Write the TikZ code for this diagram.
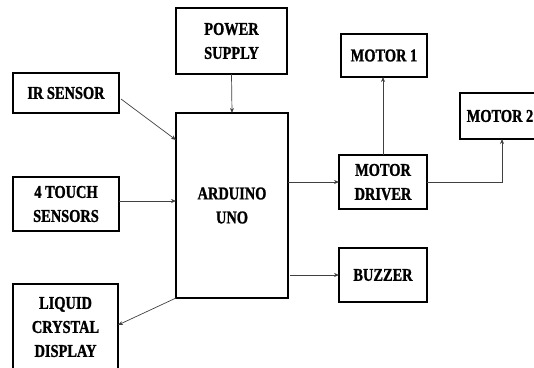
\documentclass[tikz,border=0pt]{standalone}
\usepackage{fontspec}
\newfontfamily\labfont{Liberation Serif Bold}[FakeStretch=0.8, FakeBold=1.2]
\usetikzlibrary{arrows.meta,calc}
\tikzset{
  blk/.style={draw=black, line width=1.6pt, inner sep=0pt, outer sep=0pt, align=center,
    font=\labfont\fontsize{18}{24}\selectfont},
  arr/.style={draw=black!75, line width=0.7pt, -{Stealth[length=5pt,width=4pt]}}
}
\begin{document}
\begin{tikzpicture}[x=1pt,y=-1pt]
\useasboundingbox (0,0) rectangle (534,367);
\clip (0,0) rectangle (534,367);
\node[blk, minimum width=111pt, minimum height=66pt] (power) at (231.5,41) {POWER\\SUPPLY};
\node[blk, minimum width=106pt, minimum height=40pt] (ir) at (66,93) {IR SENSOR};
\node[blk, minimum width=112pt, minimum height=185pt] (ard) at (232,205.5) {ARDUINO\\UNO};
\node[blk, minimum width=106pt, minimum height=54pt] (touch) at (66,204) {4 TOUCH\\SENSORS};
\node[blk, minimum width=105pt, minimum height=86pt] (lcd) at (65.5,327) {LIQUID\\CRYSTAL\\DISPLAY};
\node[blk, minimum width=86pt, minimum height=43pt] (m1) at (384,55.5) {MOTOR 1};
\node[blk, minimum width=80pt, minimum height=46pt] (m2) at (500,116) {MOTOR 2};
\node[blk, minimum width=88pt, minimum height=54pt] (drv) at (383,182) {MOTOR\\DRIVER};
\node[blk, minimum width=88pt, minimum height=54pt] (buz) at (383,275) {BUZZER};
\coordinate (t1) at ([yshift=3pt]touch.east);
\draw[arr] (power.south) -- (ard.north);
\draw[arr] ([yshift=-6pt,xshift=2pt]ir.east) -- ([yshift=-27pt]ard.north west);
\draw[arr] (t1) -- (t1 -| ard.west);
\draw[arr] (ard.south west) -- ([yshift=2pt]lcd.east);
\draw[arr] (ard.east |- drv.west) -- (drv.west);
\draw[arr] (drv.north) -- (drv.north |- m1.south);
\draw[arr] (drv.east) -| ([xshift=2pt]m2.south);
\draw[arr] ([xshift=2pt]ard.east |- buz.west) -- (buz.west);
\end{tikzpicture}
\end{document}
